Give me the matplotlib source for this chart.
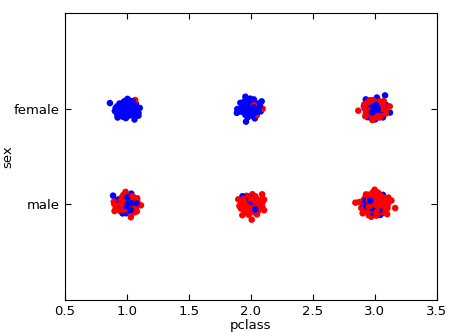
import numpy as np
import matplotlib
matplotlib.use('Agg')
import matplotlib.pyplot as plt

# passenger counts per class / sex, split by outcome
pclass = [1, 2, 3]
sex_labels = ['male', 'female']          # coded 0, 1
survived = {'female': [91, 70, 72], 'male': [45, 17, 47]}
died = {'female': [3, 6, 72], 'male': [77, 91, 300]}


def halton(i, base):
    f, r = 1.0, 0.0
    while i > 0:
        f /= base
        r += f * (i % base)
        i //= base
    return r


def spread(n, offset):
    # deterministic gaussian-ish cloud around a point (Box-Muller on Halton)
    idx = np.arange(1, n + 1) + offset
    u1 = np.array([halton(i, 2) for i in idx])
    u2 = np.array([halton(i, 3) for i in idx])
    r = np.sqrt(-2 * np.log(np.clip(u1, 1e-3, 1)))
    return r * np.cos(2 * np.pi * u2), r * np.sin(2 * np.pi * u2)


xs, ys, cs = [], [], []
offset = 0
for code, sex in enumerate(sex_labels):
    for k, pc in enumerate(pclass):
        ns, nd = survived[sex][k], died[sex][k]
        n = ns + nd
        dx, dy = spread(n, offset)
        offset += n
        # interleave outcomes the way rows come out of the table
        flags = np.zeros(n, dtype=bool)
        if ns:
            flags[np.round(np.linspace(0, n - 1, ns)).astype(int)] = True
        xs.extend(pc + 0.045 * dx)
        ys.extend(code + 0.048 * dy)
        cs.extend(np.where(flags, 'b', 'r'))

fig = plt.figure(figsize=(4.5, 3.32), dpi=100)
ax = fig.add_axes([0.144, 0.096, 0.827, 0.865])
ax.scatter(xs, ys, c=cs, s=22, linewidths=0)
ax.set_xlim(0.5, 3.5)
ax.set_ylim(-1, 2)
ax.set_xticks(np.arange(0.5, 3.51, 0.5))
ax.set_yticks([0, 1])
ax.set_yticklabels(sex_labels)
ax.set_xlabel('pclass', fontsize=9.5, labelpad=1)
ax.set_ylabel('sex', fontsize=9.5)
ax.yaxis.set_label_coords(-0.135, 0.5)
ax.tick_params(direction='in', top=True, right=True, labelsize=9.5, length=4)
fig.savefig('out.png')
